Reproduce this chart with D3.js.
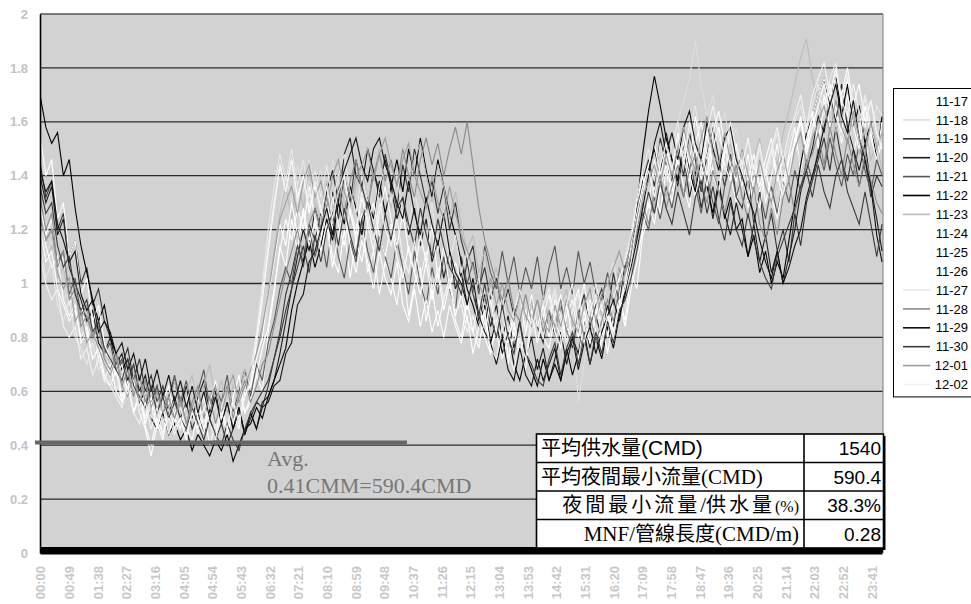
<!DOCTYPE html>
<html>
<head>
<meta charset="utf-8">
<script src="https://cdn.jsdelivr.net/npm/d3@7/dist/d3.min.js"></script>
<style>
  html, body { margin: 0; padding: 0; background: #ffffff; }
  svg { display: block; }
</style>
</head>
<body>
<svg id="chart" width="971" height="604"></svg>
<script>
// ---- data: flow (CMM) sampled every 10 minutes, plus the 23:59 reading ----
const seriesNames = ["11-17","11-18","11-19","11-20","11-21","11-22","11-23","11-24",
                     "11-25","11-26","11-27","11-28","11-29","11-30","12-01","12-02"];

const d1117 = [1.30,1.18,1.24,1.06,1.10,0.92,0.98,0.94,0.80,0.86,0.72,0.78,
  0.66,0.70,0.58,0.63,0.52,0.60,0.47,0.40,0.50,0.44,0.56,0.49,
  0.55,0.44,0.52,0.58,0.46,0.53,0.41,0.50,0.56,0.47,0.60,0.52,
  0.58,0.66,0.60,0.82,0.96,1.14,1.06,1.24,1.12,1.28,1.16,1.22,
  1.08,1.24,1.10,1.04,1.20,1.02,1.16,1.26,1.04,1.12,0.96,1.08,
  1.02,0.92,1.08,0.88,1.00,1.06,0.86,0.98,0.84,0.94,1.02,0.86,
  0.80,0.94,0.82,0.76,0.90,0.74,0.86,0.92,0.72,0.84,0.78,0.90,
  0.84,0.94,0.80,0.90,0.98,0.84,0.92,0.80,0.90,1.00,0.86,0.94,
  0.74,0.90,0.82,0.96,0.86,1.04,0.98,1.18,1.24,1.36,1.26,1.42,
  1.30,1.46,1.36,1.28,1.50,1.38,1.56,1.42,1.34,1.52,1.40,1.30,
  1.42,1.28,1.38,1.46,1.30,1.40,1.52,1.36,1.48,1.58,1.42,1.54,
  1.62,1.50,1.70,1.58,1.66,1.52,1.64,1.48,1.58,1.44,1.56,1.46,1.52];
const d1118 = [1.22,1.10,1.16,1.02,0.94,0.98,0.86,0.90,0.80,0.84,0.74,0.78,
  0.70,0.62,0.68,0.58,0.64,0.55,0.60,0.50,0.57,0.48,0.54,0.59,
  0.50,0.57,0.46,0.54,0.60,0.49,0.55,0.44,0.52,0.58,0.50,0.62,
  0.56,0.68,0.74,0.92,1.10,1.28,1.40,1.30,1.44,1.34,1.46,1.36,
  1.42,1.30,1.46,1.34,1.40,1.28,1.44,1.36,1.24,1.38,1.30,1.22,
  1.32,1.20,1.28,1.16,1.26,1.12,1.22,1.08,1.18,1.04,1.14,1.00,
  1.08,0.96,1.02,0.90,0.98,0.86,0.94,0.88,0.82,0.92,0.78,0.88,
  0.84,0.92,0.80,0.88,0.96,0.82,0.74,0.84,0.56,0.70,0.86,0.80,
  0.92,0.84,0.96,1.02,0.90,1.06,1.14,1.24,1.34,1.44,1.36,1.50,
  1.46,1.60,1.68,1.76,1.90,1.74,1.62,1.70,1.56,1.64,1.50,1.58,
  1.44,1.54,1.40,1.50,1.36,1.46,1.32,1.42,1.38,1.52,1.44,1.58,
  1.52,1.66,1.58,1.72,1.62,1.54,1.66,1.50,1.60,1.46,1.56,1.62,1.58];
const d1119 = [1.45,1.32,1.38,1.20,1.26,1.10,1.16,1.00,1.06,0.92,0.98,0.86,
  0.80,0.74,0.70,0.76,0.64,0.72,0.60,0.66,0.56,0.62,0.52,0.58,
  0.50,0.56,0.46,0.52,0.44,0.50,0.42,0.48,0.40,0.46,0.52,0.44,
  0.50,0.56,0.54,0.62,0.72,0.82,0.96,1.04,1.14,1.08,1.22,1.16,
  1.26,1.18,1.34,1.24,1.40,1.30,1.46,1.36,1.28,1.42,1.32,1.48,
  1.38,1.28,1.44,1.34,1.50,1.40,1.30,1.38,1.26,1.36,1.20,1.30,
  1.16,1.08,1.14,0.98,1.06,0.94,1.02,0.90,0.98,0.88,0.96,0.86,
  0.94,0.84,0.78,0.90,0.80,0.92,0.84,0.76,0.88,0.96,0.84,0.92,
  0.98,0.88,1.04,0.92,1.08,1.14,1.26,1.38,1.46,1.36,1.54,1.44,
  1.38,1.50,1.40,1.56,1.46,1.34,1.48,1.58,1.46,1.36,1.48,1.32,
  1.28,1.40,1.22,1.34,1.16,1.26,1.12,1.20,1.08,1.26,1.14,1.30,
  1.38,1.46,1.54,1.42,1.58,1.46,1.38,1.50,1.36,1.46,1.32,1.40,1.36];
const d1120 = [1.40,1.30,1.36,1.18,1.24,1.06,1.00,0.94,0.86,0.90,0.78,0.74,
  0.80,0.70,0.74,0.64,0.70,0.60,0.66,0.56,0.62,0.52,0.58,0.64,
  0.54,0.62,0.50,0.58,0.64,0.52,0.60,0.48,0.56,0.46,0.54,0.44,
  0.52,0.46,0.56,0.58,0.64,0.74,0.86,0.98,1.10,1.20,1.12,1.28,
  1.20,1.34,1.42,1.30,1.48,1.54,1.40,1.36,1.50,1.42,1.34,1.46,
  1.36,1.24,1.32,1.18,1.28,1.14,1.24,1.08,1.16,1.02,1.12,0.98,
  1.04,0.92,1.00,0.86,0.96,0.84,0.92,0.80,0.88,0.76,0.86,0.72,
  0.80,0.68,0.76,0.64,0.72,0.82,0.70,0.80,0.74,0.86,0.76,0.88,
  0.80,0.92,0.84,0.98,1.06,1.12,1.24,1.34,1.42,1.50,1.40,1.56,
  1.46,1.36,1.48,1.32,1.42,1.28,1.38,1.24,1.36,1.26,1.18,1.30,
  1.20,1.10,1.22,1.08,1.18,1.04,1.12,1.00,1.10,1.20,1.34,1.42,
  1.50,1.62,1.56,1.70,1.60,1.74,1.58,1.50,1.42,1.52,1.36,1.24,1.12];
const d1121 = [1.25,1.16,1.20,1.08,1.12,0.96,1.02,0.88,0.92,0.80,0.86,0.74,
  0.78,0.68,0.72,0.62,0.70,0.58,0.64,0.56,0.62,0.52,0.58,0.66,
  0.56,0.64,0.52,0.60,0.68,0.54,0.62,0.56,0.66,0.52,0.60,0.68,
  0.58,0.70,0.64,0.78,0.86,0.98,1.06,1.00,1.14,1.06,1.20,1.10,
  1.18,1.06,1.22,1.10,1.02,1.16,1.08,1.24,1.12,1.04,1.18,1.10,
  1.02,1.16,1.06,0.96,1.12,1.00,0.92,1.06,0.96,1.10,0.98,0.90,
  1.10,1.00,1.08,0.96,1.14,1.04,0.98,1.12,1.00,1.10,0.96,1.06,
  0.98,1.10,0.94,1.06,1.14,0.98,1.06,0.96,1.12,1.00,1.08,0.96,
  0.94,1.04,0.92,1.06,0.98,1.10,1.18,1.26,1.20,1.32,1.24,1.36,
  1.28,1.40,1.32,1.46,1.36,1.26,1.40,1.30,1.22,1.36,1.44,1.32,
  1.40,1.30,1.42,1.34,1.24,1.36,1.26,1.38,1.30,1.42,1.34,1.46,
  1.38,1.50,1.42,1.54,1.44,1.36,1.48,1.40,1.52,1.42,1.34,1.46,1.40];
const d1122 = [1.70,1.58,1.52,1.56,1.40,1.46,1.28,1.14,1.04,0.94,0.86,0.92,
  0.80,0.74,0.68,0.72,0.62,0.56,0.60,0.50,0.46,0.52,0.44,0.48,
  0.42,0.46,0.38,0.44,0.40,0.36,0.42,0.38,0.44,0.34,0.40,0.46,
  0.48,0.54,0.50,0.58,0.64,0.70,0.76,0.90,1.00,1.08,1.16,1.06,
  1.14,1.24,1.16,1.30,1.22,1.36,1.28,1.18,1.32,1.24,1.38,1.26,
  1.36,1.46,1.34,1.50,1.40,1.54,1.42,1.32,1.46,1.36,1.26,1.18,
  1.08,0.98,0.92,0.84,0.92,0.78,0.86,0.74,0.82,0.70,0.64,0.74,
  0.68,0.62,0.72,0.64,0.70,0.64,0.76,0.66,0.74,0.82,0.70,0.80,
  0.72,0.84,0.76,0.88,0.96,1.10,1.28,1.48,1.64,1.77,1.66,1.54,
  1.46,1.38,1.52,1.42,1.34,1.46,1.36,1.26,1.38,1.24,1.32,1.20,
  1.24,1.10,1.18,1.04,1.12,1.00,1.08,1.02,1.16,1.30,1.44,1.56,
  1.62,1.70,1.76,1.66,1.78,1.62,1.74,1.58,1.66,1.52,1.60,1.46,1.62];
const d1123 = [1.18,1.08,1.14,1.02,1.06,0.94,0.98,0.86,0.92,0.80,0.84,0.74,
  0.70,0.76,0.64,0.70,0.60,0.66,0.56,0.62,0.52,0.60,0.54,0.64,
  0.52,0.60,0.66,0.54,0.62,0.70,0.56,0.64,0.52,0.62,0.58,0.68,
  0.64,0.74,0.82,0.96,1.12,1.26,1.36,1.24,1.40,1.28,1.42,1.30,
  1.24,1.38,1.28,1.42,1.30,1.22,1.36,1.44,1.30,1.40,1.50,1.36,
  1.28,1.40,1.26,1.38,1.46,1.52,1.40,1.30,1.44,1.36,1.24,1.34,
  1.22,1.12,1.18,1.04,1.12,0.98,1.06,0.92,1.00,0.90,0.96,0.86,
  0.94,0.84,0.96,0.86,0.80,0.92,0.98,0.84,0.90,0.78,0.88,0.96,
  0.88,1.00,0.94,1.06,1.00,1.12,1.22,1.32,1.40,1.28,1.42,1.32,
  1.44,1.34,1.46,1.52,1.38,1.48,1.36,1.46,1.34,1.44,1.52,1.40,
  1.48,1.36,1.46,1.54,1.40,1.50,1.44,1.56,1.64,1.74,1.84,1.91,
  1.76,1.68,1.58,1.70,1.56,1.64,1.52,1.62,1.48,1.58,1.46,1.52,1.42];
const d1124 = [1.55,1.40,1.46,1.24,1.30,1.10,1.16,0.96,1.02,0.86,0.92,0.78,
  0.72,0.66,0.70,0.58,0.64,0.52,0.46,0.36,0.48,0.42,0.54,0.46,
  0.50,0.42,0.54,0.44,0.52,0.40,0.48,0.56,0.44,0.52,0.46,0.60,
  0.62,0.72,0.80,0.96,1.08,1.22,1.14,1.30,1.18,1.26,1.14,1.24,
  1.12,1.22,1.06,1.18,1.28,1.14,1.04,1.16,1.08,0.98,1.12,1.02,
  0.96,1.08,0.92,0.86,0.98,0.84,0.94,0.82,0.90,0.80,0.92,0.84,
  0.78,0.88,0.74,0.84,0.90,0.76,0.82,0.72,0.80,0.86,0.74,0.82,
  0.96,0.84,0.92,0.80,0.94,0.88,0.78,0.90,0.98,0.84,0.78,0.90,
  0.86,0.74,0.88,0.94,0.84,0.98,1.08,1.20,1.30,1.22,1.36,1.44,
  1.34,1.46,1.52,1.40,1.32,1.44,1.36,1.50,1.58,1.44,1.38,1.52,
  1.40,1.30,1.44,1.34,1.42,1.50,1.38,1.46,1.40,1.54,1.60,1.48,
  1.58,1.66,1.74,1.64,1.78,1.70,1.80,1.66,1.74,1.60,1.68,1.56,1.50];
const d1125 = [1.20,1.08,1.12,0.98,0.92,0.86,0.90,0.80,0.84,0.72,0.76,0.66,
  0.62,0.68,0.56,0.62,0.52,0.58,0.48,0.56,0.46,0.54,0.44,0.52,
  0.56,0.46,0.42,0.52,0.58,0.48,0.44,0.54,0.46,0.56,0.50,0.58,
  0.62,0.78,0.94,1.12,1.28,1.44,1.34,1.46,1.32,1.40,1.26,1.36,
  1.28,1.18,1.32,1.22,1.14,1.28,1.16,1.08,1.22,1.30,1.18,1.10,
  1.22,1.10,1.02,1.14,1.04,0.96,1.08,0.94,1.04,0.90,1.00,0.88,
  0.96,0.86,0.82,0.94,0.80,0.74,0.86,0.78,0.70,0.82,0.74,0.68,
  0.86,0.94,0.80,0.76,0.88,0.96,0.84,0.78,0.72,0.86,0.94,0.82,
  0.80,0.90,0.78,0.92,1.00,1.14,1.26,1.36,1.44,1.52,1.40,1.50,
  1.42,1.56,1.46,1.38,1.52,1.60,1.48,1.40,1.34,1.48,1.56,1.44,
  1.36,1.48,1.34,1.28,1.42,1.32,1.24,1.38,1.46,1.52,1.60,1.50,
  1.62,1.70,1.76,1.68,1.80,1.66,1.76,1.64,1.56,1.70,1.58,1.50,1.56];
const d1126 = [1.28,1.14,1.06,1.10,0.94,0.88,0.92,0.78,0.82,0.72,0.76,0.64,
  0.70,0.60,0.56,0.64,0.52,0.60,0.50,0.58,0.46,0.56,0.62,0.50,
  0.46,0.56,0.62,0.50,0.44,0.56,0.64,0.50,0.46,0.58,0.66,0.52,
  0.56,0.66,0.76,0.84,0.98,1.12,1.24,1.16,1.28,1.20,1.36,1.24,
  1.16,1.30,1.20,1.34,1.40,1.26,1.18,1.32,1.22,1.12,1.26,1.36,
  1.24,1.14,1.26,1.12,1.04,1.18,1.08,1.22,1.02,1.14,0.98,1.08,
  1.00,0.90,1.02,0.88,0.80,0.94,0.82,0.92,0.78,0.90,0.96,0.82,
  0.90,0.78,0.88,0.96,0.82,0.76,0.88,0.94,0.80,0.90,0.78,0.88,
  0.92,0.80,0.94,1.02,1.08,1.16,1.30,1.40,1.28,1.46,1.34,1.48,
  1.36,1.48,1.56,1.44,1.62,1.50,1.40,1.56,1.64,1.52,1.44,1.38,
  1.50,1.38,1.48,1.36,1.46,1.54,1.40,1.32,1.46,1.52,1.62,1.50,
  1.64,1.52,1.66,1.74,1.62,1.56,1.70,1.58,1.50,1.66,1.54,1.46,1.60];
const d1127 = [1.15,1.02,1.08,0.92,0.86,0.94,0.80,0.76,0.70,0.78,0.68,0.72,
  0.64,0.60,0.66,0.58,0.62,0.52,0.60,0.50,0.56,0.48,0.54,0.46,
  0.54,0.46,0.52,0.60,0.48,0.56,0.46,0.54,0.62,0.50,0.58,0.64,
  0.68,0.82,1.00,1.20,1.36,1.48,1.38,1.50,1.36,1.46,1.32,1.42,
  1.32,1.44,1.30,1.40,1.48,1.34,1.26,1.40,1.30,1.22,1.36,1.44,
  1.30,1.40,1.26,1.20,1.34,1.24,1.16,1.30,1.12,1.24,1.08,1.18,
  1.04,1.12,0.94,1.02,0.88,0.98,0.84,0.96,0.82,0.90,0.98,0.86,
  0.82,0.92,0.80,0.90,0.98,0.84,0.78,0.90,0.96,0.82,0.92,1.00,
  0.90,1.00,1.08,0.96,1.10,1.18,1.32,1.42,1.50,1.38,1.52,1.40,
  1.52,1.60,1.46,1.56,1.66,1.52,1.46,1.60,1.50,1.42,1.56,1.46,
  1.42,1.54,1.40,1.50,1.38,1.48,1.56,1.44,1.52,1.60,1.66,1.56,
  1.66,1.74,1.62,1.76,1.82,1.68,1.78,1.64,1.58,1.70,1.56,1.66,1.62];
const d1128 = [1.32,1.20,1.26,1.06,1.12,0.94,0.98,0.84,0.88,0.80,0.84,0.72,
  0.68,0.74,0.62,0.68,0.58,0.66,0.56,0.62,0.52,0.60,0.54,0.50,
  0.58,0.48,0.56,0.62,0.50,0.58,0.48,0.56,0.62,0.50,0.58,0.64,
  0.56,0.62,0.70,0.74,0.84,0.94,1.04,1.12,1.20,1.10,1.22,1.28,
  1.20,1.32,1.24,1.36,1.26,1.38,1.46,1.34,1.28,1.40,1.48,1.38,
  1.46,1.36,1.50,1.40,1.32,1.46,1.54,1.44,1.52,1.40,1.50,1.58,
  1.48,1.60,1.44,1.28,1.16,1.08,1.00,0.94,1.02,0.90,0.86,0.96,
  0.86,0.94,0.82,0.90,0.84,0.94,0.82,0.78,0.90,0.80,0.88,0.78,
  0.86,0.94,0.86,0.98,1.04,1.10,1.20,1.30,1.22,1.34,1.40,1.28,
  1.36,1.44,1.32,1.42,1.48,1.36,1.30,1.42,1.34,1.26,1.36,1.44,
  1.32,1.24,1.36,1.22,1.16,1.28,1.18,1.32,1.38,1.26,1.36,1.44,
  1.48,1.56,1.44,1.58,1.48,1.40,1.54,1.44,1.36,1.48,1.38,1.30,1.26];
const d1129 = [1.42,1.34,1.38,1.22,1.16,1.08,1.12,0.96,0.90,0.94,0.82,0.86,
  0.82,0.74,0.78,0.68,0.74,0.64,0.72,0.60,0.68,0.58,0.66,0.56,
  0.64,0.54,0.62,0.52,0.60,0.50,0.58,0.48,0.56,0.46,0.54,0.44,
  0.52,0.46,0.54,0.56,0.62,0.64,0.74,0.78,0.92,0.96,1.08,1.12,
  1.20,1.28,1.18,1.34,1.42,1.48,1.54,1.44,1.38,1.50,1.54,1.44,
  1.38,1.30,1.24,1.38,1.26,1.18,1.32,1.22,1.14,1.26,1.12,1.04,
  1.00,0.92,1.02,0.88,0.82,0.78,0.70,0.80,0.68,0.64,0.76,0.66,
  0.62,0.72,0.64,0.70,0.76,0.64,0.74,0.80,0.68,0.78,0.84,0.74,
  0.82,0.88,0.94,0.86,0.98,1.06,1.16,1.28,1.40,1.52,1.60,1.48,
  1.56,1.46,1.58,1.64,1.52,1.46,1.60,1.50,1.42,1.54,1.58,1.46,
  1.40,1.32,1.26,1.16,1.08,1.02,1.12,1.00,1.06,1.14,1.20,1.32,
  1.40,1.48,1.58,1.66,1.74,1.62,1.56,1.68,1.54,1.46,1.36,1.18,1.08];
const d1130 = [1.36,1.26,1.30,1.14,1.06,1.10,0.96,0.90,0.94,0.82,0.86,0.76,
  0.72,0.68,0.64,0.72,0.62,0.58,0.54,0.62,0.52,0.58,0.50,0.56,
  0.50,0.46,0.54,0.48,0.42,0.50,0.44,0.40,0.48,0.42,0.38,0.46,
  0.52,0.56,0.60,0.64,0.72,0.80,0.90,0.98,1.06,1.14,1.04,1.18,
  1.08,1.20,1.26,1.14,1.28,1.18,1.10,1.24,1.30,1.20,1.12,1.26,
  1.16,1.28,1.32,1.22,1.14,1.28,1.18,1.10,1.24,1.14,1.06,1.02,
  0.96,1.08,0.96,0.88,1.00,0.88,0.80,0.92,0.80,0.74,0.86,0.74,
  0.70,0.64,0.62,0.72,0.78,0.66,0.76,0.82,0.70,0.80,0.70,0.82,
  0.74,0.86,0.78,0.90,0.94,1.02,1.12,1.24,1.34,1.26,1.38,1.28,
  1.22,1.34,1.26,1.18,1.32,1.38,1.26,1.36,1.24,1.16,1.30,1.20,
  1.14,1.26,1.16,1.08,1.02,0.98,1.10,1.16,1.22,1.28,1.36,1.42,
  1.32,1.44,1.34,1.28,1.40,1.46,1.34,1.28,1.22,1.34,1.22,1.10,1.22];
const d1201 = [1.26,1.16,1.20,1.04,0.98,1.02,0.86,0.90,0.78,0.82,0.76,0.70,
  0.66,0.72,0.62,0.58,0.66,0.56,0.64,0.54,0.60,0.52,0.58,0.50,
  0.56,0.48,0.54,0.60,0.50,0.58,0.62,0.52,0.60,0.66,0.56,0.62,
  0.68,0.74,0.84,0.96,1.10,1.24,1.30,1.36,1.26,1.38,1.44,1.32,
  1.38,1.28,1.40,1.46,1.34,1.28,1.40,1.44,1.50,1.38,1.48,1.54,
  1.44,1.36,1.46,1.52,1.40,1.34,1.28,1.40,1.30,1.24,1.36,1.26,
  1.18,1.12,1.06,1.00,0.94,1.02,0.92,1.00,0.90,0.86,0.96,0.88,
  0.84,0.94,0.86,0.82,0.92,0.84,0.94,0.86,0.82,0.92,0.98,0.86,
  0.96,1.00,1.06,1.12,1.04,1.16,1.24,1.32,1.38,1.44,1.36,1.48,
  1.40,1.50,1.58,1.48,1.42,1.54,1.62,1.48,1.44,1.56,1.46,1.40,
  1.50,1.40,1.34,1.46,1.36,1.30,1.42,1.48,1.38,1.50,1.56,1.44,
  1.54,1.60,1.66,1.56,1.68,1.58,1.52,1.64,1.54,1.48,1.60,1.50,1.56];
const d1202 = [1.10,1.00,0.94,0.98,0.84,0.80,0.84,0.72,0.76,0.66,0.72,0.64,
  0.62,0.58,0.54,0.62,0.52,0.48,0.56,0.46,0.54,0.44,0.50,0.44,
  0.50,0.44,0.52,0.46,0.54,0.48,0.42,0.52,0.46,0.56,0.48,0.58,
  0.64,0.80,0.96,1.14,1.30,1.44,1.34,1.46,1.30,1.40,1.28,1.38,
  1.26,1.36,1.24,1.34,1.40,1.28,1.20,1.34,1.24,1.16,1.30,1.20,
  1.14,1.24,1.10,1.04,1.16,1.02,1.12,0.98,1.06,0.94,1.02,0.90,
  0.92,0.82,0.88,0.78,0.86,0.76,0.72,0.84,0.74,0.68,0.80,0.72,
  0.88,0.78,0.92,0.98,0.86,0.80,0.92,1.00,0.84,0.78,0.90,0.96,
  0.78,0.88,0.80,0.92,0.98,1.08,1.22,1.34,1.42,1.32,1.44,1.52,
  1.42,1.54,1.44,1.60,1.50,1.44,1.56,1.66,1.54,1.48,1.60,1.50,
  1.44,1.54,1.42,1.52,1.40,1.50,1.58,1.46,1.56,1.62,1.70,1.58,
  1.70,1.76,1.82,1.70,1.80,1.68,1.62,1.74,1.64,1.58,1.68,1.56,1.50];

const seriesValues = [d1117, d1118, d1119, d1120, d1121, d1122, d1123, d1124,
                      d1125, d1126, d1127, d1128, d1129, d1130, d1201, d1202];

// sample times in minutes after midnight: every 10 minutes, then 23:59
const sampleMinutes = d3.range(0, 1440, 10).concat([1439]);

const yTicks = [0, 0.2, 0.4, 0.6, 0.8, 1, 1.2, 1.4, 1.6, 1.8, 2];
const xTickLabels = ["00:00","00:49","01:38","02:27","03:16","04:05","04:54","05:43",
  "06:32","07:21","08:10","08:59","09:48","10:37","11:26","12:15","13:04","13:53",
  "14:42","15:31","16:20","17:09","17:58","18:47","19:36","20:25","21:14","22:03",
  "22:52","23:41"];

const avgNightFlow = 0.41;
const avgNote = ["Avg.", "0.41CMM=590.4CMD"];
const tableLabels = ["平均供水量(CMD)", "平均夜間最小流量(CMD)", "夜間最小流量/供水量(%)", "MNF/管線長度(CMD/m)"];
const tableValues = ["1540", "590.4", "38.3%", "0.28"];

// line colours, one per day
const seriesColors = ["#ffffff","#dedede","#333333","#1c1c1c","#575757","#000000","#bcbcbc","#ffffff",
                      "#ffffff","#ffffff","#e8e8e8","#8a8a8a","#101010","#3a3a3a","#9c9c9c","#f3f3f3"];

// ---- drawing ----
const SANS = "'Liberation Sans', Arial, sans-serif";
const SERIF = "'Liberation Serif', 'Times New Roman', serif";
const CJK = "'Noto Sans CJK TC', 'Noto Sans CJK SC', sans-serif";

const svg = d3.select("#chart");
const plot = { left: 40, right: 883, top: 14, bottom: 553 };

const x = d3.scaleLinear().domain([0, 1439]).range([plot.left, plot.right - 1]);
const y = d3.scaleLinear().domain([0, 2]).range([plot.bottom, plot.top]);

// plot area
svg.append("rect")
  .attr("x", plot.left).attr("y", plot.top)
  .attr("width", plot.right - plot.left).attr("height", plot.bottom - plot.top)
  .attr("fill", "#d2d2d2");

// horizontal gridlines
svg.append("g").selectAll("line")
  .data(yTicks.filter(v => v > 0))
  .join("line")
  .attr("x1", plot.left).attr("x2", plot.right)
  .attr("y1", d => y(d)).attr("y2", d => y(d))
  .attr("stroke", d => d === 2 ? "#555" : "#2a2a2a")
  .attr("stroke-width", 1.3);

// right border of the plot area
svg.append("line")
  .attr("x1", plot.right).attr("x2", plot.right)
  .attr("y1", plot.top).attr("y2", plot.bottom)
  .attr("stroke", "#8a8a8a").attr("stroke-width", 1.2);

// series lines
svg.append("clipPath").attr("id", "plotClip")
  .append("rect").attr("x", plot.left).attr("y", plot.top)
  .attr("width", plot.right - plot.left).attr("height", plot.bottom - plot.top);

const line = d3.line()
  .x((d, i) => x(sampleMinutes[i]))
  .y(d => y(d));

svg.append("g").attr("clip-path", "url(#plotClip)")
  .selectAll("path")
  .data(seriesValues)
  .join("path")
  .attr("d", d => line(d))
  .attr("fill", "none")
  .attr("stroke", (d, i) => seriesColors[i])
  .attr("stroke-width", 1.1)
  .attr("stroke-linejoin", "miter");

// y axis
const yAxis = svg.append("g")
  .attr("transform", `translate(${plot.left},0)`)
  .call(d3.axisLeft(y).tickValues(yTicks).tickSize(0).tickPadding(12)
        .tickFormat(d => d3.format("~g")(d)));
yAxis.select(".domain").attr("stroke", "#000").attr("stroke-width", 1.6);
yAxis.selectAll("text")
  .attr("font-family", SANS).attr("font-size", 13).attr("font-weight", "bold")
  .attr("fill", "#c3c3c3");

// x axis: one tick per minute, packed into a dark band
const xBand = svg.append("g")
  .attr("transform", `translate(0,${plot.bottom})`)
  .call(d3.axisBottom(x).tickValues(d3.range(0, 1440, 1)).tickSizeInner(-6).tickSizeOuter(0)
        .tickFormat(() => ""));
xBand.select(".domain").attr("stroke", "#000").attr("stroke-width", 2);
xBand.selectAll(".tick line")
  .attr("stroke", "#000").attr("stroke-width", 1)
  .attr("shape-rendering", "crispEdges");

// x axis labels, rotated
const toMinutes = s => +s.slice(0, 2) * 60 + +s.slice(3, 5);
const xLabels = svg.append("g")
  .attr("transform", `translate(0,${plot.bottom})`)
  .call(d3.axisBottom(x).tickValues(xTickLabels.map(toMinutes)).tickSize(0)
        .tickFormat(m => xTickLabels.find(s => toMinutes(s) === m)));
xLabels.select(".domain").remove();
xLabels.selectAll("text")
  .attr("transform", "rotate(-90)")
  .attr("text-anchor", "end")
  .attr("x", -13).attr("y", 0).attr("dy", "0.36em")
  .attr("font-family", SANS).attr("font-size", 13).attr("font-weight", "bold")
  .attr("fill", "#c8c8c8");

// average night minimum flow marker
svg.append("line")
  .attr("x1", 35).attr("x2", 407)
  .attr("y1", y(avgNightFlow)).attr("y2", y(avgNightFlow))
  .attr("stroke", "#666").attr("stroke-width", 4);

svg.append("g").selectAll("text")
  .data(avgNote)
  .join("text")
  .attr("x", 267)
  .attr("y", (d, i) => 466 + i * 27)
  .attr("font-family", SERIF).attr("font-size", 22)
  .attr("fill", "#777")
  .text(d => d);

// summary table
const tbl = { x0: 536.5, x1: 883.5, xDiv: 804, y0: 434, rowH: 28.5 };
const tg = svg.append("g");
tg.append("rect")
  .attr("x", tbl.x0 + 2).attr("y", tbl.y0 + 2)
  .attr("width", tbl.x1 - tbl.x0).attr("height", tbl.rowH * 4)
  .attr("fill", "#000");
tg.append("rect")
  .attr("x", tbl.x0).attr("y", tbl.y0)
  .attr("width", tbl.x1 - tbl.x0).attr("height", tbl.rowH * 4)
  .attr("fill", "#fff").attr("stroke", "#000").attr("stroke-width", 1.6);
tg.selectAll("line.row")
  .data([1, 2, 3])
  .join("line").attr("class", "row")
  .attr("x1", tbl.x0).attr("x2", tbl.x1)
  .attr("y1", d => tbl.y0 + d * tbl.rowH).attr("y2", d => tbl.y0 + d * tbl.rowH)
  .attr("stroke", "#000").attr("stroke-width", 1.6);
tg.append("line")
  .attr("x1", tbl.xDiv).attr("x2", tbl.xDiv)
  .attr("y1", tbl.y0).attr("y2", tbl.y0 + 4 * tbl.rowH)
  .attr("stroke", "#000").attr("stroke-width", 1.6);

const isCJK = s => /[\u3400-\u9fff]/.test(s);
tableLabels.forEach((label, r) => {
  const parts = label.match(/[\u3400-\u9fff]+|[^\u3400-\u9fff]+/g);
  const right = r >= 2;
  const t = tg.append("text")
    .attr("x", right ? 799 : 541)
    .attr("y", tbl.y0 + r * tbl.rowH + 21)
    .attr("text-anchor", right ? "end" : "start")
    .attr("font-size", 20)
    .attr("fill", "#000");
  parts.forEach(p => {
    const sp = t.append("tspan").text(p);
    if (isCJK(p)) {
      sp.attr("font-family", CJK).attr("font-size", 20);
      if (r === 2) sp.attr("letter-spacing", 3);
    } else if (r === 0) {
      sp.attr("font-family", SANS).attr("font-size", 21);
    } else {
      sp.attr("font-family", SERIF).attr("font-size", r === 2 && p === "(%)" ? 16 : 21);
    }
  });
});

tg.selectAll("text.val")
  .data(tableValues)
  .join("text").attr("class", "val")
  .attr("x", 881)
  .attr("y", (d, i) => tbl.y0 + i * tbl.rowH + 21)
  .attr("text-anchor", "end")
  .attr("font-family", SANS).attr("font-size", 19)
  .attr("fill", "#000")
  .text(d => d);

// legend
const lg = svg.append("g");
const lgTop = 88, lgStep = 18.9;
lg.append("rect")
  .attr("x", 893.5).attr("y", lgTop + 0.5)
  .attr("width", 90).attr("height", lgStep * 16 + 6)
  .attr("fill", "#fff").attr("stroke", "#000").attr("stroke-width", 1);
const items = lg.selectAll("g.item")
  .data(seriesNames)
  .join("g").attr("class", "item")
  .attr("transform", (d, i) => `translate(0,${lgTop + 13 + i * lgStep})`);
items.append("line")
  .attr("x1", 903).attr("x2", 930)
  .attr("stroke", (d, i) => seriesColors[i]).attr("stroke-width", 1.6);
items.append("text")
  .attr("x", 968).attr("dy", "0.36em")
  .attr("text-anchor", "end")
  .attr("font-family", SANS).attr("font-size", 13)
  .attr("fill", "#000")
  .text(d => d);
</script>
</body>
</html>
